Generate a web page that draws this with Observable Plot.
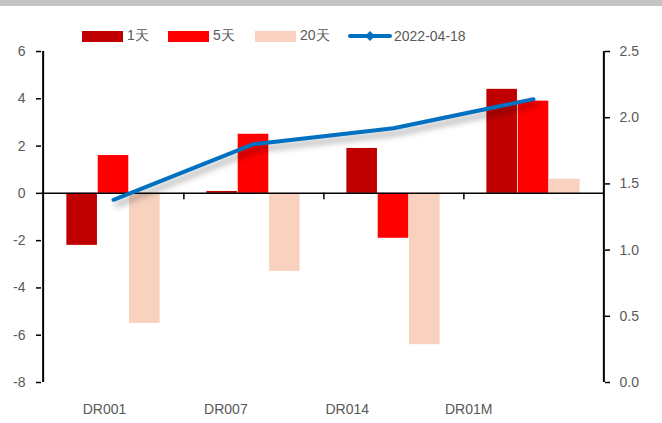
<!DOCTYPE html>
<html>
<head>
<meta charset="utf-8">
<script src="https://cdn.jsdelivr.net/npm/d3@7"></script>
<script src="https://cdn.jsdelivr.net/npm/@observablehq/plot@0.6"></script>
<style>
  body { margin: 0; background: white; }
  #wrap { position: relative; width: 662px; height: 423px; font-family: "Liberation Sans", sans-serif; }
  #topbar { position: absolute; left: 0; top: 0; width: 662px; height: 6px; background: #c4c4c4; }
  .leg { position: absolute; top: 27px; height: 18px; display: flex; align-items: center; font-size: 14px; color: #595959; white-space: nowrap; }
  .sw { width: 41px; height: 11px; margin-right: 4px; }
  svg text { fill: #595959; }
</style>
</head>
<body>
<div id="wrap">
  <div id="chart"></div>
  <div id="topbar"></div>
  <div id="legend"></div>
</div>
<script>
const categories = ["DR001", "DR007", "DR014", "DR01M"];
const series = ["1天", "5天", "20天"];
const values1 = [-2.2, 0.08, 1.9, 4.4];
const values5 = [1.6, 2.5, -1.9, 3.9];
const values20 = [-5.5, -3.3, -6.4, 0.6];
const lineLabel = "2022-04-18";
const lineValues = [1.38, 1.80, 1.92, 2.14];
const leftTicks = [-8, -6, -4, -2, 0, 2, 4, 6];
const rightTicks = [0, 0.5, 1, 1.5, 2, 2.5];
const colors = ["#C00000", "#FF0000", "#F9D2BF"];
const lineColor = "#0070C0";

const W = 662, H = 423, mL = 41, mR = 58, mT = 51, mB = 41;
const bw = (W - mL - mR) / categories.length;
const gw = 94, barW = gw / 3;
const leftMin = -8, leftMax = 6, rightMax = 2.5;
const toLeft = v => leftMin + v * (leftMax - leftMin) / rightMax;
const fromLeft = y => (y - leftMin) * rightMax / (leftMax - leftMin);

const allSeries = [values1, values5, values20];
const barMarks = series.map((s, i) => {
  const rows = categories.map((c, j) => ({c, v: allSeries[i][j]}));
  const il = (bw - gw) / 2 + i * barW;
  return Plot.barY(rows, {x: "c", y: "v", fill: colors[i], insetLeft: il, insetRight: bw - il - barW});
});
const lineRows = categories.map((c, j) => ({c, v: lineValues[j]}));
const labelMarks = categories.map((c, i) =>
  Plot.text([c], {x: d => d, y: () => leftMin, dy: 27, dx: -9 - 18.6 * i, fontSize: 14}));

const chart = Plot.plot({
  width: W, height: H,
  marginLeft: mL, marginRight: mR, marginTop: mT, marginBottom: mB,
  style: {fontFamily: "Liberation Sans, sans-serif", fontSize: "14px", background: "white", color: "black"},
  x: {type: "band", domain: categories, padding: 0, axis: null},
  y: {domain: [leftMin, leftMax], axis: null},
  marks: [
    ...barMarks,
    Plot.ruleY([0], {stroke: "black", strokeWidth: 1.5}),
    Plot.ruleX(categories.slice(0, 3), {x: d => d, dx: bw / 2, y1: 0, y2: -0.27, stroke: "black", strokeWidth: 1.5}),
    Plot.ruleX([categories[0]], {x: d => d, dx: -bw / 2, y1: leftMin, y2: leftMax, stroke: "black", strokeWidth: 2}),
    Plot.ruleX([categories[categories.length - 1]], {x: d => d, dx: bw / 2, y1: leftMin, y2: leftMax, stroke: "black", strokeWidth: 2}),
    Plot.line(lineRows, {x: "c", y: d => toLeft(d.v), stroke: lineColor, strokeWidth: 4, curve: "linear", strokeLinecap: "round", strokeLinejoin: "round"}),
    Plot.axisY(leftTicks, {anchor: "left", label: null, tickSize: 5, tickPadding: 11, strokeWidth: 1.5, tickFormat: d => String(d), fontSize: 14}),
    Plot.axisY(rightTicks.map(toLeft), {anchor: "right", label: null, tickSize: 5, tickPadding: 10, strokeWidth: 1.5, tickFormat: y => fromLeft(y).toFixed(1), fontSize: 14}),
    ...labelMarks
  ]
});
document.getElementById("chart").appendChild(chart);
d3.select(chart).selectAll('g[aria-label="line"] path')
  .style("filter", "drop-shadow(3px 5px 3px rgba(0,0,0,0.35))");

// legend
const legend = document.getElementById("legend");
const legendLefts = [82, 168, 255];
series.forEach((s, i) => {
  const item = document.createElement("div");
  item.className = "leg";
  item.style.left = legendLefts[i] + "px";
  item.innerHTML = `<div class="sw" style="background:${colors[i]}"></div><span>${s}</span>`;
  legend.appendChild(item);
});
const li = document.createElement("div");
li.className = "leg";
li.style.left = "348px";
li.innerHTML = `<svg width="44" height="14" style="margin-right:2px"><line x1="2" y1="7" x2="42" y2="7" stroke="${lineColor}" stroke-width="4" stroke-linecap="round"/><path d="M22,2 L27,7 L22,12 L17,7 Z" fill="${lineColor}"/></svg><span>${lineLabel}</span>`;
legend.appendChild(li);
</script>
</body>
</html>
